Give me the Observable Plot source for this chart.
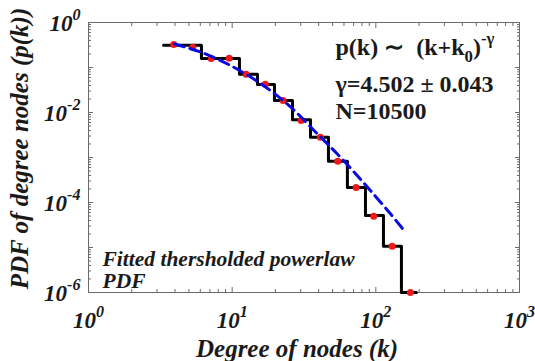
<!DOCTYPE html>
<html><head><meta charset="utf-8">
<script src="https://cdn.jsdelivr.net/npm/d3@7"></script>
<script src="https://cdn.jsdelivr.net/npm/@observablehq/plot@0.6"></script>
<style>html,body{margin:0;padding:0;background:#fff;font-family:"Liberation Serif",serif;}</style>
</head><body><div id="chart"></div>
<script>
// ---- data ----
const binEdges  = [3.33, 6.11, 11.24, 15.0, 19.7, 26.3, 35.1, 46.8, 63.4, 84.7, 113, 150.7, 191.7];
const binValues = [0.313, 0.158, 0.071, 0.0419, 0.0185, 0.00689, 0.00283, 8.28e-4, 2.16e-4, 5.14e-5, 1.07e-5, 1e-6];
const pointK = [3.92, 5.32, 7.14, 9.53, 12.5, 17.0, 22.6, 30.2, 41.1, 54.3, 72.9, 96.7, 129.8, 174];
const pointP = [0.325, 0.283, 0.158, 0.161, 0.071, 0.0423, 0.0185, 0.00664, 0.00283, 8.28e-4, 2.16e-4, 4.96e-5, 1.07e-5, 1e-6];
const fitK = [3.97, 6.02, 9.73, 16.5, 25.5, 39.1, 53.8, 74.1, 91.6, 126.4, 160.7];
const fitP = [0.333, 0.221, 0.111, 0.0398, 0.01325, 0.00337, 0.00121, 3.98e-4, 1.85e-4, 5.61e-5, 2.19e-5];
const xTickValues = [1, 10, 100, 1000];
const xTickLabels = ["10^0", "10^1", "10^2", "10^3"];
const yTickValues = [1, 1e-2, 1e-4, 1e-6];
const yTickLabels = ["10^0", "10^-2", "10^-4", "10^-6"];
const xLabel = "Degree of nodes (k)";
const yLabel = "PDF of degree nodes (p(k))";
const fitLines = ["p(k) \u223C  (k+k_0)^-\u03B3", "\u03B3=4.502 \u00B1 0.043", "N=10500"];
const noteLines = ["Fitted thersholded powerlaw", "PDF"];

// ---- derived tables ----
const steps = binEdges.map((k, i) => ({k, p: binValues[Math.min(i, binValues.length - 1)]}));
const points = pointK.map((k, i) => ({k, p: pointP[i]}));
const fit = fitK.map((k, i) => ({k, p: fitP[i]}));
const xTicks = xTickValues.map((v, i) => ({v, t: xTickLabels[i]}));
const yTicks = yTickValues.map((v, i) => ({v, t: yTickLabels[i]}));
const minor = (lo, hi) => { const r = []; for (let e = lo; e < hi; e++) for (let m = 2; m <= 9; m++) r.push(m * Math.pow(10, e)); return r; };
const xMinor = minor(0, 3), yMinor = minor(-6, 0);
const yMajorAll = [1, 1e-1, 1e-2, 1e-3, 1e-4, 1e-5, 1e-6];

const axisColor = "#6a6a6a";
const textColor = "#1a1a1a";
const serif = "Liberation Serif";
const ax = {stroke: axisColor, tickFormat: () => "", label: null};
const bi = {fontFamily: serif, fontWeight: "bold", fontStyle: "italic", fill: textColor};

const fitBase = [54, 91, 118];
const noteBase = [265, 287];

const chart = Plot.plot({
  width: 535, height: 361,
  marginLeft: 88, marginRight: 16, marginTop: 22, marginBottom: 69,
  style: {fontFamily: serif},
  x: {type: "log", domain: [1, 1000]},
  y: {type: "log", domain: [1e-6, 1]},
  marks: [
    Plot.frame({stroke: axisColor}),
    Plot.axisX({anchor: "bottom", ticks: xTickValues, tickSize: -5, ...ax}),
    Plot.axisX({anchor: "bottom", ticks: xMinor, tickSize: -3, ...ax}),
    Plot.axisX({anchor: "top", ticks: xTickValues, tickSize: -5, ...ax}),
    Plot.axisX({anchor: "top", ticks: xMinor, tickSize: -3, ...ax}),
    Plot.axisY({anchor: "left", ticks: yMajorAll, tickSize: -5, ...ax}),
    Plot.axisY({anchor: "left", ticks: yMinor, tickSize: -3, ...ax}),
    Plot.axisY({anchor: "right", ticks: yMajorAll, tickSize: -5, ...ax}),
    Plot.axisY({anchor: "right", ticks: yMinor, tickSize: -3, ...ax}),
    Plot.line(steps, {x: "k", y: "p", curve: "step-after", stroke: "#000", strokeWidth: 3}),
    Plot.dot(points, {x: "k", y: "p", r: 3.5, fill: "#f01818", stroke: null}),
    Plot.line(fit, {x: "k", y: "p", curve: "catmull-rom", stroke: "#0a0ae0", strokeWidth: 3, strokeDasharray: "10,6"}),
    Plot.text(xTicks, {x: "v", text: "t", frameAnchor: "bottom", lineAnchor: "bottom", dy: 35, fontSize: 23, ...bi}),
    Plot.text(yTicks, {y: "v", text: "t", frameAnchor: "left", textAnchor: "end", lineAnchor: "bottom", dx: -8, dy: 8, fontSize: 23, ...bi}),
    Plot.text([xLabel], {frameAnchor: "bottom", lineAnchor: "bottom", dx: -7, dy: 64, fontSize: 25, ...bi}),
    Plot.text([yLabel], {frameAnchor: "left", textAnchor: "middle", lineAnchor: "bottom", rotate: -90, dx: -61, dy: -9, fontSize: 25, ...bi}),
    ...fitLines.map((s, i) => Plot.text([s], {frameAnchor: "top-left", textAnchor: "start", lineAnchor: "bottom",
      dx: 247, dy: fitBase[i] - 22, fontSize: 24, fontFamily: serif, fontWeight: "bold", fill: textColor})),
    ...noteLines.map((s, i) => Plot.text([s], {frameAnchor: "top-left", textAnchor: "start", lineAnchor: "bottom",
      dx: 14, dy: noteBase[i] - 22, fontSize: 21.5, ...bi}))
  ]
});
// replace Plot's default root font (system-ui, sans-serif)
chart.setAttribute("font-family", serif);

// rich text: _x subscript, ^... superscript
function richify(svg) {
  svg.querySelectorAll("text").forEach(t => {
    t.setAttribute("font-family", serif);
    const s = t.textContent;
    if (!/[\^_]/.test(s) || t.querySelector("tspan")) return;
    const fs = parseFloat(t.parentNode.getAttribute("font-size")) || 20;
    t.textContent = "";
    let shift = 0, buf = "", i = 0;
    const add = (str, mode) => {
      const ts = document.createElementNS("http://www.w3.org/2000/svg", "tspan");
      const target = mode === "sub" ? fs * 0.3 : mode === "sup" ? -fs * 0.45 : 0;
      const d = target - shift;
      if (d) ts.setAttribute("dy", d.toFixed(2));
      shift = target;
      if (mode) ts.setAttribute("font-size", (fs * 0.7).toFixed(2));
      ts.textContent = str;
      t.appendChild(ts);
    };
    while (i < s.length) {
      const c = s[i];
      if (c === "_") { if (buf) add(buf, null); buf = ""; add(s[i + 1], "sub"); i += 2; }
      else if (c === "^") { if (buf) add(buf, null); buf = ""; add(s.slice(i + 1), "sup"); i = s.length; }
      else { buf += c; i++; }
    }
    if (buf) add(buf, null);
  });
}
richify(chart);
document.getElementById("chart").appendChild(chart);
</script>
</body></html>
